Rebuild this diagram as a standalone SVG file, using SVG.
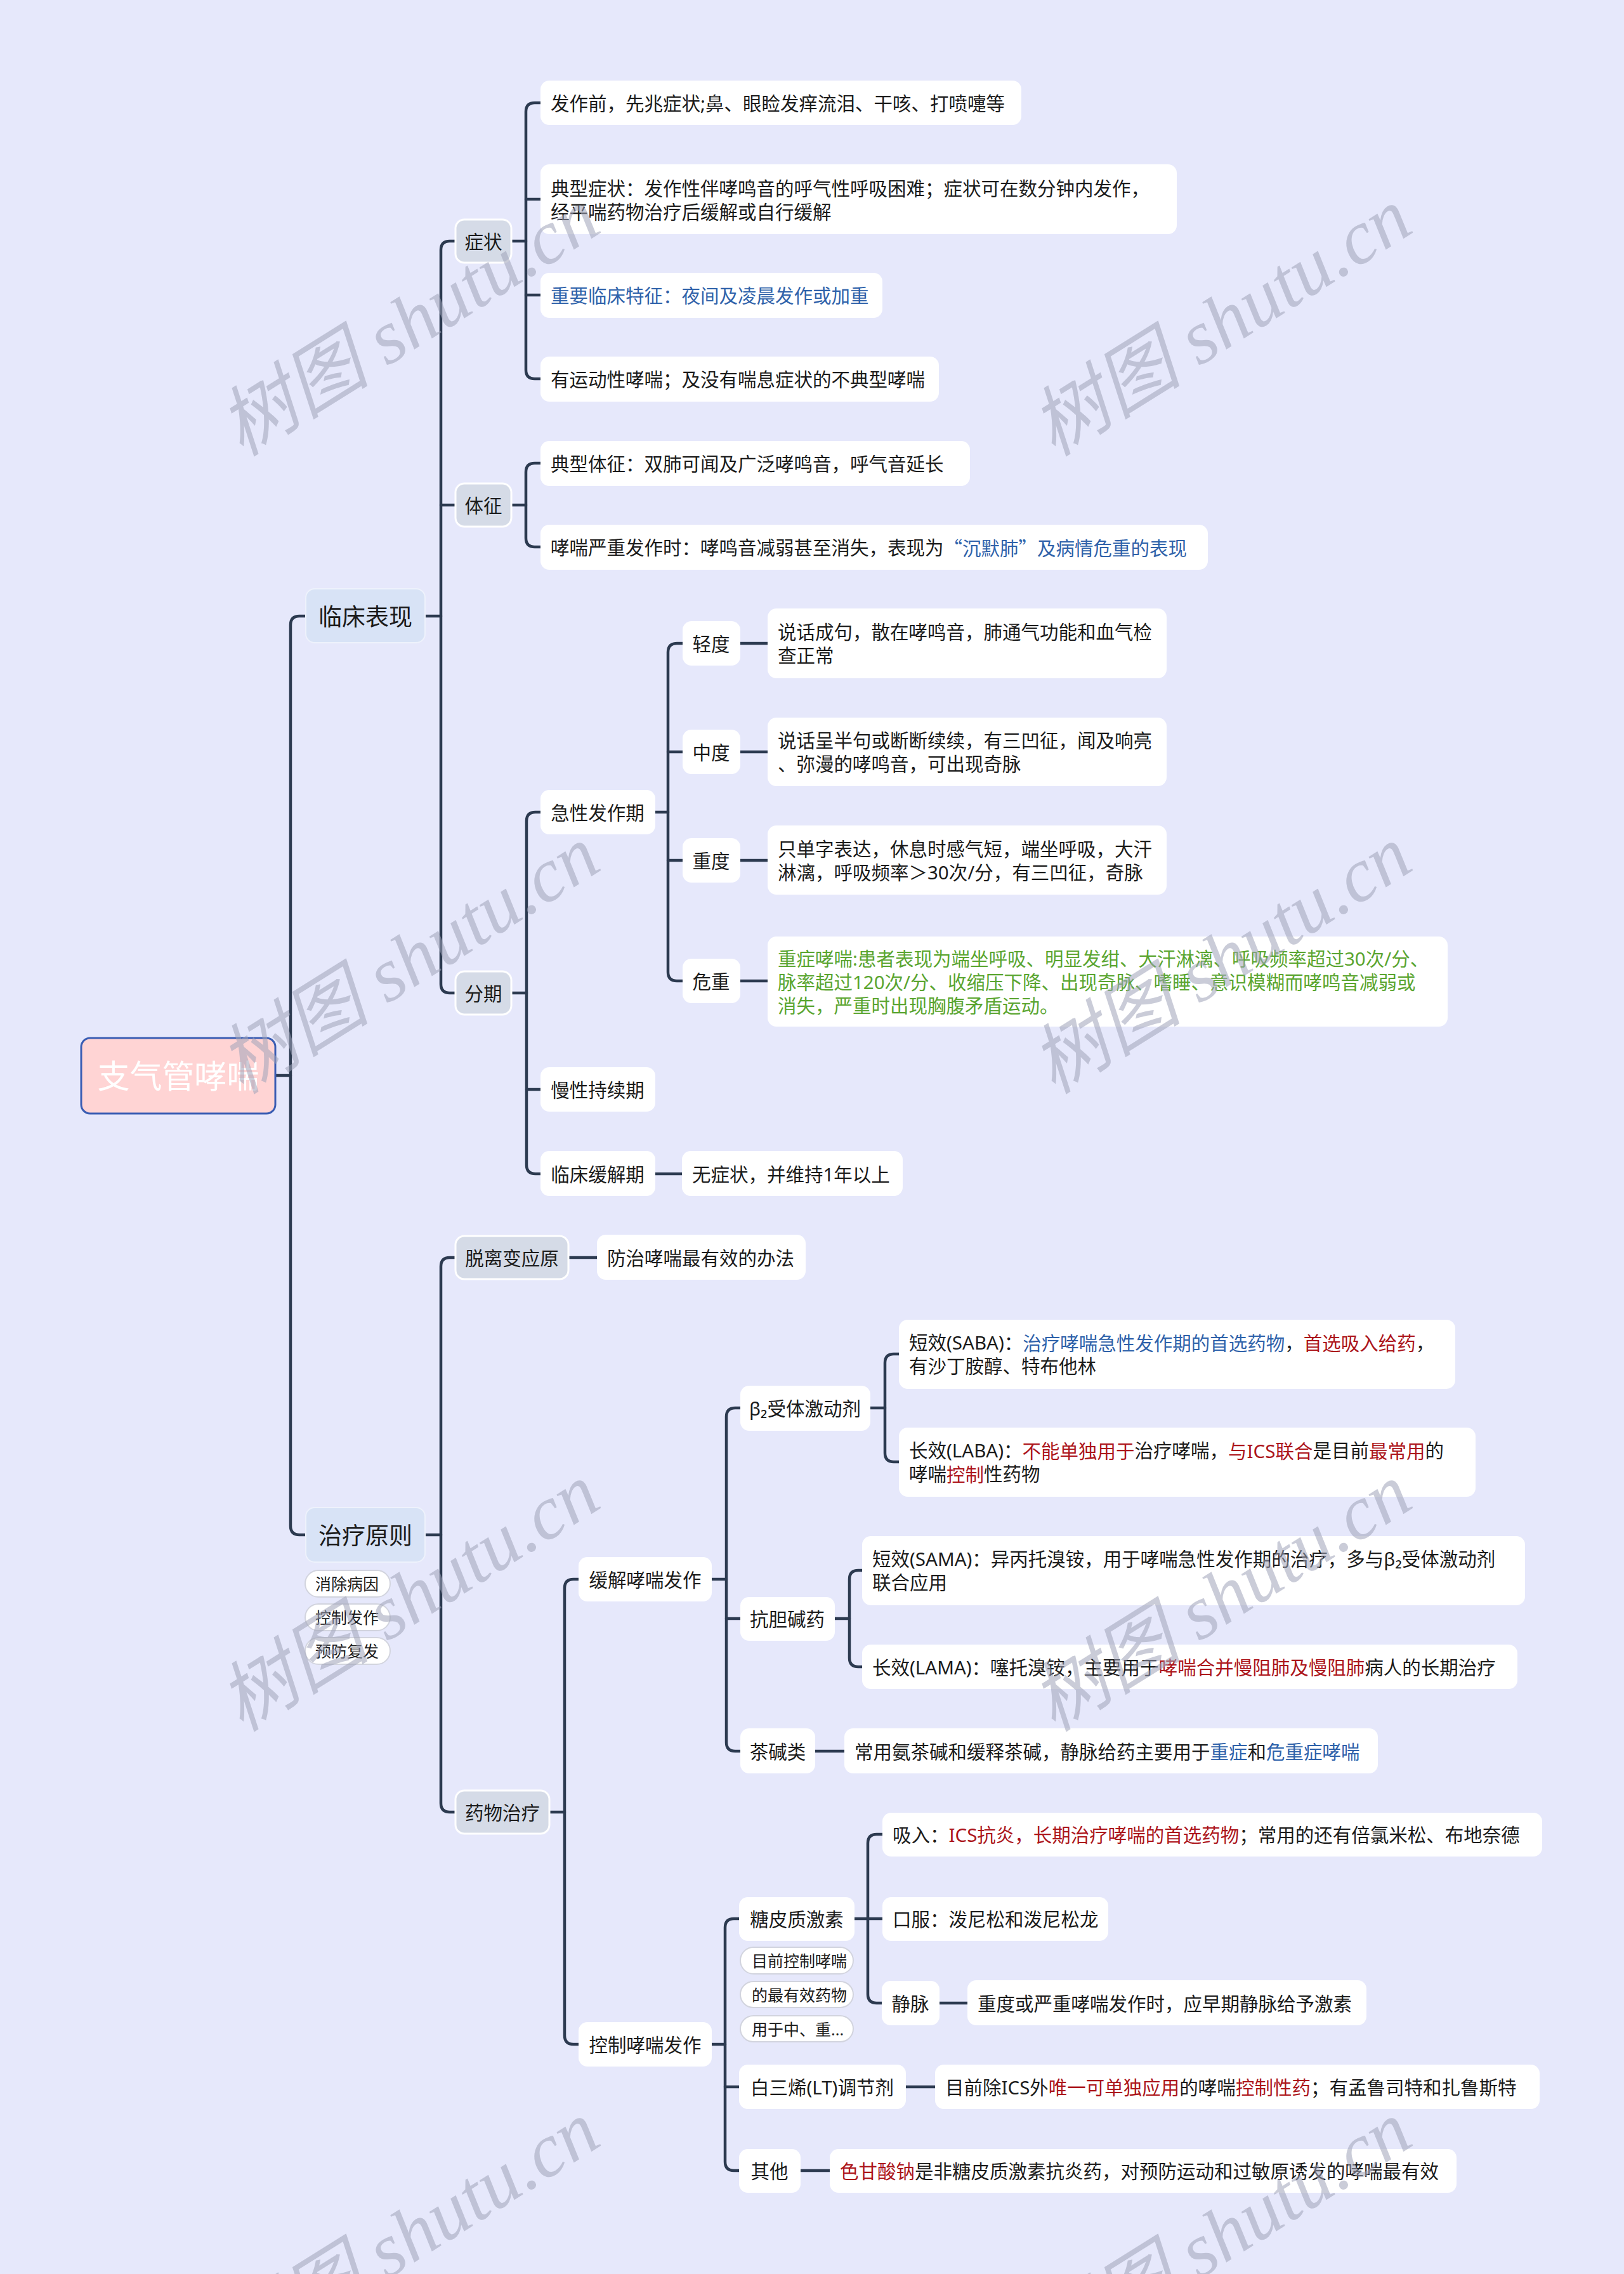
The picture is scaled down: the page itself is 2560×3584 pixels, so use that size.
<svg xmlns="http://www.w3.org/2000/svg" width="2560" height="3584" viewBox="0 0 2560 3584">
<style>
.leaf{fill:#ffffff}
.l2{fill:#d5dbe7;stroke:#ffffff;stroke-width:3}
.l1{fill:#d8e3f6;stroke:#eef2fc;stroke-width:2}
.tag{fill:#ffffff;stroke:#d2d4de;stroke-width:2}
.root{fill:#ffd4d4;stroke:#3a5db3;stroke-width:3}
text{font-family:"Noto Sans","Noto Sans CJK SC",sans-serif;font-size:29.5px;fill:#1b1b1b;dominant-baseline:central}
.c{text-anchor:middle}
.f36{font-size:37px}
.f25{font-size:25px}
.b{fill:#2f62aa}
.r{fill:#ac151b}
.g{fill:#5aa530}
.cjk{font-family:"Noto Sans CJK SC",sans-serif}
#connectors path{fill:none;stroke:#2c3a50;stroke-width:4.5;stroke-linecap:round}
#watermark text{font-family:"Liberation Serif","Noto Sans CJK SC",serif;font-style:italic;font-size:120px;fill:#9ea3b8;fill-opacity:0.55;text-anchor:middle}
</style>
<rect x="0" y="0" width="2560" height="3584" fill="#e6e8fb"/>

<g id="connectors">
<path d="M434,1695 H458"/>
<path d="M482,971 H472 Q458,971 458,985 V2405 Q458,2419 472,2419 H482"/>
<path d="M670,971 H695"/>
<path d="M718,380 H709 Q695,380 695,394 V1551 Q695,1565 709,1565 H718"/>
<path d="M695,796 H718"/>
<path d="M806,380 H829"/>
<path d="M852,162 H843 Q829,162 829,176 V583 Q829,597 843,597 H852"/>
<path d="M829,314 H852"/>
<path d="M829,465 H852"/>
<path d="M806,796 H829"/>
<path d="M852,730 H843 Q829,730 829,744 V848 Q829,862 843,862 H852"/>
<path d="M807,1565 H830"/>
<path d="M852,1280 H844 Q830,1280 830,1294 V1836 Q830,1850 844,1850 H852"/>
<path d="M830,1717 H852"/>
<path d="M1033,1850 H1075"/>
<path d="M1033,1280 H1053"/>
<path d="M1076,1014 H1067 Q1053,1014 1053,1028 V1532 Q1053,1546 1067,1546 H1076"/>
<path d="M1053,1185 H1076"/>
<path d="M1053,1356 H1076"/>
<path d="M1167,1014 H1210"/>
<path d="M1167,1185 H1210"/>
<path d="M1167,1356 H1210"/>
<path d="M1167,1546 H1210"/>
<path d="M670,2419 H695"/>
<path d="M718,1982 H709 Q695,1982 695,1996 V2842 Q695,2856 709,2856 H718"/>
<path d="M896,1982 H941"/>
<path d="M866,2856 H890"/>
<path d="M912,2489 H904 Q890,2489 890,2503 V3208 Q890,3222 904,3222 H912"/>
<path d="M1122,2489 H1145"/>
<path d="M1167,2219 H1159 Q1145,2219 1145,2233 V2746 Q1145,2760 1159,2760 H1167"/>
<path d="M1145,2551 H1167"/>
<path d="M1285,2760 H1331"/>
<path d="M1372,2219 H1395"/>
<path d="M1417,2134 H1409 Q1395,2134 1395,2148 V2290 Q1395,2304 1409,2304 H1417"/>
<path d="M1316,2551 H1339"/>
<path d="M1359,2475 H1353 Q1339,2475 1339,2489 V2613 Q1339,2627 1353,2627 H1359"/>
<path d="M1122,3222 H1143"/>
<path d="M1165,3024 H1157 Q1143,3024 1143,3038 V3407 Q1143,3421 1157,3421 H1165"/>
<path d="M1143,3289 H1165"/>
<path d="M1428,3289 H1474"/>
<path d="M1262,3421 H1308"/>
<path d="M1347,3024 H1368"/>
<path d="M1391,2891 H1382 Q1368,2891 1368,2905 V3143 Q1368,3157 1382,3157 H1390"/>
<path d="M1368,3024 H1391"/>
<path d="M1481,3157 H1525"/>
</g>

<g id="root"><rect class="root" x="128" y="1636" width="306" height="119" rx="14"/><text class="c" x="281" y="1695" style="font-size:51px;fill:#ffffff">支气管哮喘</text></g>

<g id="n-linchuang"><rect class="l1" x="482" y="928" width="188" height="85" rx="14"/><text class="c f36" x="576" y="971">临床表现</text></g>
<g id="n-zhiliao"><rect class="l1" x="482" y="2376" width="188" height="86" rx="14"/><text class="c f36" x="576" y="2419">治疗原则</text></g>
<g id="tag-1"><rect class="tag" x="481" y="2475" width="134" height="42" rx="21"/><text class="f25" x="497" y="2496">消除病因</text></g>
<g id="tag-2"><rect class="tag" x="481" y="2528" width="134" height="42" rx="21"/><text class="f25" x="497" y="2549">控制发作</text></g>
<g id="tag-3"><rect class="tag" x="481" y="2581" width="134" height="42" rx="21"/><text class="f25" x="497" y="2602">预防复发</text></g>

<g id="n-zhengzhuang"><rect class="l2" x="718" y="346" width="88" height="68" rx="14"/><text class="c" x="762" y="380">症状</text></g>
<g id="n-tizheng"><rect class="l2" x="718" y="762" width="88" height="68" rx="14"/><text class="c" x="762" y="796">体征</text></g>
<g id="n-fenqi"><rect class="l2" x="718" y="1531" width="88" height="68" rx="14"/><text class="c" x="762" y="1565">分期</text></g>

<g id="s1"><rect class="leaf" x="852" y="127" width="758" height="70" rx="14"/><text x="868" y="162">发作前，先兆症状;鼻、眼睑发痒流泪、干咳、打喷嚏等</text></g>
<g id="s2"><rect class="leaf" x="852" y="259" width="1003" height="110" rx="14"/><text x="868" y="296">典型症状：发作性伴哮鸣音的呼气性呼吸困难；症状可在数分钟内发作，</text><text x="868" y="333">经平喘药物治疗后缓解或自行缓解</text></g>
<g id="s3"><rect class="leaf" x="852" y="430" width="539" height="71" rx="14"/><text class="b" x="868" y="465">重要临床特征：夜间及凌晨发作或加重</text></g>
<g id="s4"><rect class="leaf" x="852" y="562" width="628" height="71" rx="14"/><text x="868" y="597">有运动性哮喘；及没有喘息症状的不典型哮喘</text></g>

<g id="t1"><rect class="leaf" x="852" y="695" width="677" height="71" rx="14"/><text x="868" y="730">典型体征：双肺可闻及广泛哮鸣音，呼气音延长</text></g>
<g id="t2"><rect class="leaf" x="852" y="827" width="1052" height="71" rx="14"/><text x="868" y="862">哮喘严重发作时：哮鸣音减弱甚至消失，表现为<tspan class="b cjk">“沉默肺”及病情危重的表现</tspan></text></g>

<g id="p1"><rect class="leaf" x="852" y="1245" width="181" height="70" rx="14"/><text class="c" x="942" y="1280">急性发作期</text></g>
<g id="p2"><rect class="leaf" x="852" y="1682" width="181" height="70" rx="14"/><text class="c" x="942" y="1717">慢性持续期</text></g>
<g id="p3"><rect class="leaf" x="852" y="1814" width="181" height="71" rx="14"/><text class="c" x="942" y="1850">临床缓解期</text></g>
<g id="p3d"><rect class="leaf" x="1075" y="1814" width="348" height="71" rx="14"/><text x="1091" y="1850">无症状，并维持1年以上</text></g>

<g id="a1"><rect class="leaf" x="1076" y="979" width="91" height="70" rx="14"/><text class="c" x="1121" y="1014">轻度</text></g>
<g id="a2"><rect class="leaf" x="1076" y="1150" width="91" height="70" rx="14"/><text class="c" x="1121" y="1185">中度</text></g>
<g id="a3"><rect class="leaf" x="1076" y="1321" width="91" height="70" rx="14"/><text class="c" x="1121" y="1356">重度</text></g>
<g id="a4"><rect class="leaf" x="1076" y="1511" width="91" height="70" rx="14"/><text class="c" x="1121" y="1546">危重</text></g>
<g id="a1d"><rect class="leaf" x="1210" y="959" width="629" height="110" rx="14"/><text x="1226" y="995.5">说话成句，散在哮鸣音，肺通气功能和血气检</text><text x="1226" y="1032.5">查正常</text></g>
<g id="a2d"><rect class="leaf" x="1210" y="1131" width="629" height="108" rx="14"/><text x="1226" y="1166.5">说话呈半句或断断续续，有三凹征，闻及响亮</text><text x="1226" y="1203.5">、弥漫的哮鸣音，可出现奇脉</text></g>
<g id="a3d"><rect class="leaf" x="1210" y="1301" width="629" height="109" rx="14"/><text x="1226" y="1337.5">只单字表达，休息时感气短，端坐呼吸，大汗</text><text x="1226" y="1374.5">淋漓，呼吸频率＞30次/分，有三凹征，奇脉</text></g>
<g id="a4d"><rect class="leaf" x="1210" y="1476" width="1072" height="142" rx="14"/><text class="g" x="1226" y="1510">重症哮喘:患者表现为端坐呼吸、明显发绀、大汗淋漓、呼吸频率超过30次/分、</text><text class="g" x="1226" y="1547">脉率超过120次/分、收缩压下降、出现奇脉、嗜睡、意识模糊而哮鸣音减弱或</text><text class="g" x="1226" y="1584">消失，严重时出现胸腹矛盾运动。</text></g>

<g id="n-tuoli"><rect class="l2" x="718" y="1948" width="178" height="68" rx="14"/><text class="c" x="807" y="1982">脱离变应原</text></g>
<g id="n-tuoli-d"><rect class="leaf" x="941" y="1946" width="329" height="71" rx="14"/><text x="957" y="1982">防治哮喘最有效的办法</text></g>
<g id="n-yaowu"><rect class="l2" x="718" y="2822" width="148" height="68" rx="14"/><text class="c" x="792" y="2856">药物治疗</text></g>

<g id="n-huanjie"><rect class="leaf" x="912" y="2454" width="210" height="70" rx="14"/><text class="c" x="1017" y="2489">缓解哮喘发作</text></g>
<g id="n-kongzhi"><rect class="leaf" x="912" y="3187" width="210" height="70" rx="14"/><text class="c" x="1017" y="3222">控制哮喘发作</text></g>

<g id="n-beta"><rect class="leaf" x="1167" y="2184" width="205" height="71" rx="14"/><text class="c" x="1269" y="2219">β₂受体激动剂</text></g>
<g id="n-kangdan"><rect class="leaf" x="1167" y="2517" width="149" height="69" rx="14"/><text class="c" x="1241" y="2551">抗胆碱药</text></g>
<g id="n-chajian"><rect class="leaf" x="1167" y="2724" width="118" height="71" rx="14"/><text class="c" x="1226" y="2760">茶碱类</text></g>
<g id="n-chajian-d"><rect class="leaf" x="1331" y="2724" width="841" height="71" rx="14"/><text x="1347" y="2760">常用氨茶碱和缓释茶碱，静脉给药主要用于<tspan class="b">重症</tspan>和<tspan class="b">危重症哮喘</tspan></text></g>

<g id="n-saba"><rect class="leaf" x="1417" y="2080" width="877" height="109" rx="14"/><text x="1433" y="2115.5">短效(SABA)：<tspan class="b">治疗哮喘急性发作期的首选药物</tspan>，<tspan class="r">首选吸入给药</tspan>，</text><text x="1433" y="2152.5">有沙丁胺醇、特布他林</text></g>
<g id="n-laba"><rect class="leaf" x="1417" y="2250" width="909" height="109" rx="14"/><text x="1433" y="2285.5">长效(LABA)：<tspan class="r">不能单独用于</tspan>治疗哮喘，<tspan class="r">与ICS联合</tspan>是目前<tspan class="r">最常用</tspan>的</text><text x="1433" y="2322.5">哮喘<tspan class="r">控制</tspan>性药物</text></g>

<g id="n-sama"><rect class="leaf" x="1359" y="2421" width="1045" height="109" rx="14"/><text x="1375" y="2456.5">短效(SAMA)：异丙托溴铵，用于哮喘急性发作期的治疗，多与β₂受体激动剂</text><text x="1375" y="2493.5">联合应用</text></g>
<g id="n-lama"><rect class="leaf" x="1359" y="2592" width="1033" height="70" rx="14"/><text x="1375" y="2627">长效(LAMA)：噻托溴铵，主要用于<tspan class="r">哮喘合并慢阻肺及慢阻肺</tspan>病人的长期治疗</text></g>

<g id="n-tangpi"><rect class="leaf" x="1165" y="2990" width="182" height="69" rx="14"/><text class="c" x="1256" y="3024">糖皮质激素</text></g>
<g id="tag-4"><rect class="tag" x="1167" y="3069" width="178" height="42" rx="21"/><text class="f25" x="1185" y="3090">目前控制哮喘</text></g>
<g id="tag-5"><rect class="tag" x="1167" y="3123" width="178" height="41" rx="20.5"/><text class="f25" x="1185" y="3143.5">的最有效药物</text></g>
<g id="tag-6"><rect class="tag" x="1167" y="3177" width="178" height="41" rx="20.5"/><text class="f25" x="1185" y="3197.5">用于中、重...</text></g>
<g id="n-baisan"><rect class="leaf" x="1165" y="3254" width="263" height="70" rx="14"/><text class="c" x="1296" y="3289">白三烯(LT)调节剂</text></g>
<g id="n-qita"><rect class="leaf" x="1165" y="3387" width="97" height="69" rx="14"/><text class="c" x="1213" y="3421">其他</text></g>
<g id="n-baisan-d"><rect class="leaf" x="1474" y="3254" width="953" height="70" rx="14"/><text x="1490" y="3289">目前除ICS外<tspan class="r">唯一可单独应用</tspan>的哮喘<tspan class="r">控制性药</tspan>；有孟鲁司特和扎鲁斯特</text></g>
<g id="n-qita-d"><rect class="leaf" x="1308" y="3387" width="988" height="69" rx="14"/><text x="1324" y="3421"><tspan class="r">色甘酸钠</tspan>是非糖皮质激素抗炎药，对预防运动和过敏原诱发的哮喘最有效</text></g>

<g id="n-xiru"><rect class="leaf" x="1391" y="2857" width="1040" height="69" rx="14"/><text x="1407" y="2891">吸入：<tspan class="r">ICS抗炎，长期治疗哮喘的首选药物</tspan>；常用的还有倍氯米松、布地奈德</text></g>
<g id="n-koufu"><rect class="leaf" x="1391" y="2990" width="356" height="69" rx="14"/><text x="1407" y="3024">口服：泼尼松和泼尼松龙</text></g>
<g id="n-jingmai"><rect class="leaf" x="1390" y="3122" width="91" height="70" rx="14"/><text class="c" x="1435" y="3157">静脉</text></g>
<g id="n-jingmai-d"><rect class="leaf" x="1525" y="3121" width="629" height="71" rx="14"/><text x="1541" y="3157">重度或严重哮喘发作时，应早期静脉给予激素</text></g>

<g id="watermark">
<text transform="translate(645,508) rotate(-32)">树图 shutu.cn</text>
<text transform="translate(1925,508) rotate(-32)">树图 shutu.cn</text>
<text transform="translate(645,1513) rotate(-32)">树图 shutu.cn</text>
<text transform="translate(1925,1513) rotate(-32)">树图 shutu.cn</text>
<text transform="translate(645,2518) rotate(-32)">树图 shutu.cn</text>
<text transform="translate(1925,2518) rotate(-32)">树图 shutu.cn</text>
<text transform="translate(645,3523) rotate(-32)">树图 shutu.cn</text>
<text transform="translate(1925,3523) rotate(-32)">树图 shutu.cn</text>
</g>
</svg>
